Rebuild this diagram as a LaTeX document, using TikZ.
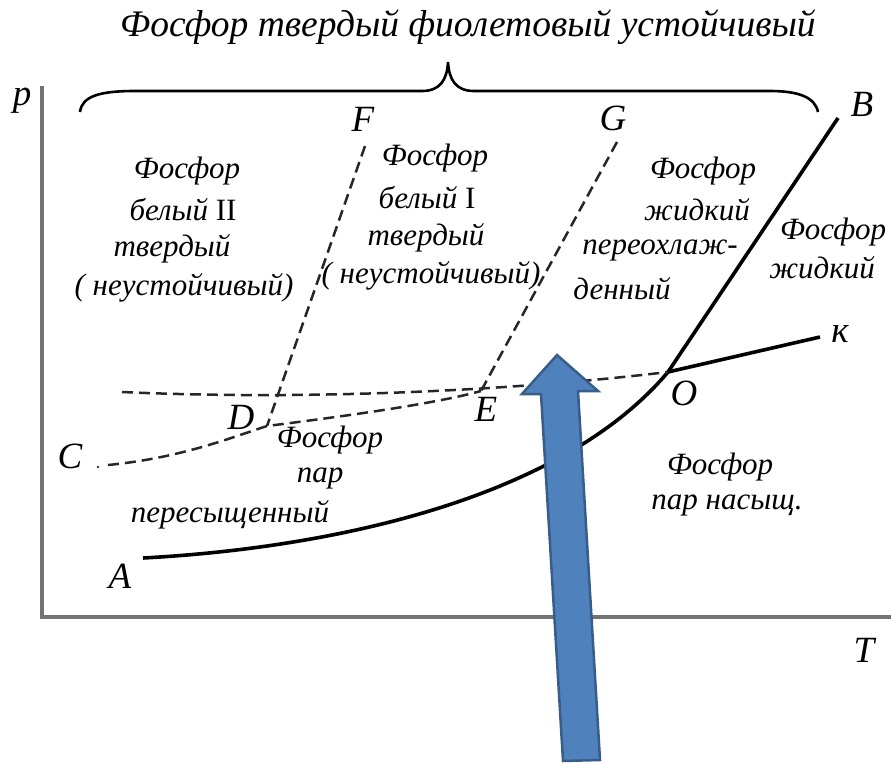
\documentclass[tikz,border=0pt]{standalone}
\usepackage{fontspec}
\setmainfont{Liberation Serif}
\begin{document}
\begin{tikzpicture}[x=1pt,y=-1pt,
  lbl/.style={font=\fontsize{31}{31}\selectfont\itshape, inner sep=0pt},
  ttl/.style={font=\fontsize{37.5}{37.5}\selectfont\itshape, inner sep=0pt},
  letter/.style={font=\fontsize{37}{37}\selectfont\itshape, inner sep=0pt},
  axis/.style={draw=black!55, line width=3.2pt},
  curve/.style={draw=black, line width=3.6pt},
  dashline/.style={draw=black!85, line width=2.5pt, dash pattern=on 11pt off 6pt},
  bluearrow/.style={fill={rgb,255:red,79;green,129;blue,189}, draw={rgb,255:red,56;green,93;blue,138}, line width=2.5pt, line join=miter}
]
\useasboundingbox (0,0) rectangle (891,763);
% axes
\coordinate (ytop) at (42,86);
\coordinate (orig) at (42,617);
\coordinate (xend) at (891,617);
\draw[axis] (ytop) -- (orig) -- (xend);
\node[letter] (p) at (22,101) {p};
\node[letter] (T) at (864,650) {T};
% title and brace
\node[ttl] (title) at (468,27) {Фосфор твердый фиолетовый устойчивый};
\coordinate (brL) at (80,112);
\coordinate (brT) at (448,62);
\coordinate (brR) at (818,112);
\draw[black, line width=2.6pt] (brL) .. controls (82,96) and (100,91) .. (135,91) -- (422,91) .. controls (440,91) and (447,80) .. (brT) .. controls (449,80) and (456,91) .. (474,91) -- (770,91) .. controls (798,91) and (815,97) .. (brR);
% key points
\coordinate (A) at (143,558);
\coordinate (O) at (668,372);
\coordinate (B) at (838,118);
\coordinate (K) at (820,337);
\coordinate (C) at (108,465);
\coordinate (Cdot) at (98,467);
\coordinate (D) at (267,426);
\coordinate (E) at (481,391);
\coordinate (F) at (365,146);
\coordinate (G) at (617,142);
\coordinate (H) at (122,392);
% solid curves
\draw[curve] (A) .. controls (330,548) and (560,500) .. (O) -- (B);
\draw[curve] (O) -- (K);
% dashed lines
\draw[dashline] (H) .. controls (300,400) and (500,392) .. (O);
\draw[dashline] (C) .. controls (180,458) and (230,438) .. (D) .. controls (330,418) and (430,405) .. (E);
\fill[black!80] (Cdot) circle (1.3pt);
\draw[dashline] (F) -- (D);
\draw[dashline] (G) -- (E);
% point labels
\node[letter] (lA) at (120,576) {A};
\node[letter] (lC) at (70,456) {C};
\node[letter] (lD) at (241,417) {D};
\node[letter] (lE) at (486,409) {E};
\node[letter] (lO) at (684,393) {O};
\node[letter] (lK) at (840,334) {к};
\node[letter] (lF) at (363,119) {F};
\node[letter] (lG) at (613,118) {G};
\node[letter] (lB) at (862,104) {B};
% region labels
\node[lbl] (w2a) at (187,171) {Фосфор};
\node[lbl] (w2b) at (183,210) {белый \textup{II}};
\node[lbl] (w2c) at (172,249) {твердый};
\node[lbl] (w2d) at (184,288) {( неустойчивый)};
\node[lbl] (w1a) at (435,158) {Фосфор};
\node[lbl] (w1b) at (427,198) {белый \textup{I}};
\node[lbl] (w1c) at (426,238) {твердый};
\node[lbl] (w1d) at (431,276) {( неустойчивый)};
\node[lbl] (sla) at (703,171) {Фосфор};
\node[lbl] (slb) at (697,210) {жидкий};
\node[lbl] (slc) at (660,250) {переохлаж-};
\node[lbl] (sld) at (622,289) {денный};
\node[lbl] (lqa) at (833,232) {Фосфор};
\node[lbl] (lqb) at (822,268) {жидкий};
\node[lbl] (spa) at (330,440) {Фосфор};
\node[lbl] (spb) at (320,478) {пар};
\node[lbl] (spc) at (230,515) {пересыщенный};
\node[lbl] (sta) at (720,467) {Фосфор};
\node[lbl] (stb) at (727,505) {пар насыщ.};
% blue arrow
\draw[bluearrow] (557,355) -- (598,391) -- (578,391) -- (600,760) -- (563,761) -- (541,394) -- (522,394) -- cycle;
\end{tikzpicture}
\end{document}
